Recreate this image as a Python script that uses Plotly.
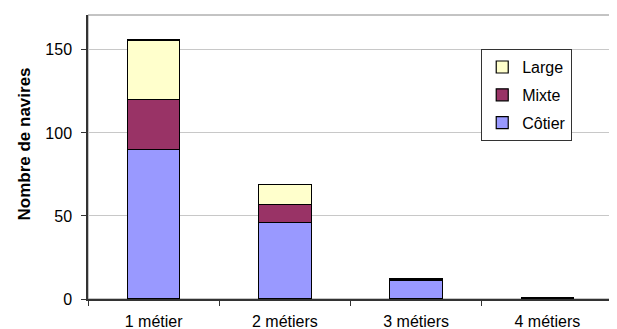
import plotly.graph_objects as go

categories = ["1 métier", "2 métiers", "3 métiers", "4 métiers"]
cotier = [90, 46, 11, 1]
mixte = [30, 11, 1, 0]
large = [36, 12, 0, 0]
y_title = "Nombre de navires"

series = [("Côtier", cotier, "#9999FF", 3), ("Mixte", mixte, "#993366", 2), ("Large", large, "#FFFFCC", 1)]

fig = go.Figure()
for name, vals, col, rank in series:
    fig.add_trace(go.Bar(x=categories, y=vals, name=name, legendgroup=name, legendrank=rank,
                         marker=dict(color=col, line=dict(color="black", width=1.2))))

fig.update_layout(
    barmode="stack", bargap=0.6,
    width=609, height=321,
    margin=dict(l=80, r=4, t=7, b=30),
    paper_bgcolor="white", plot_bgcolor="white",
    font=dict(family="Liberation Sans, Arial", size=15, color="black"),
    legend=dict(traceorder="grouped", x=0.749, y=0.88, xanchor="left", yanchor="top",
                bordercolor="#333", borderwidth=1, bgcolor="white",
                font=dict(size=16), itemwidth=30, tracegroupgap=4),
    shapes=[dict(type="rect", xref="paper", yref="paper", x0=0, x1=1, y0=0, y1=1,
                 line=dict(color="#888888", width=1), layer="below")],
    annotations=[dict(text="<b>" + y_title + "</b>", xref="paper", yref="paper",
                      x=-0.12, y=0.544, xanchor="center", yanchor="middle",
                      textangle=-90, showarrow=False, font=dict(size=17))],
)
fig.update_xaxes(showline=True, linecolor="#333", linewidth=1.5, ticks="outside",
                 tickson="boundaries", ticklen=5, tickcolor="#333", showgrid=False,
                 tickfont=dict(size=16), ticklabelstandoff=7, automargin=False)
fig.update_yaxes(range=[0, 171], tickvals=[0, 50, 100, 150], showline=True, linecolor="#333",
                 linewidth=1.5, ticks="outside", ticklen=5, tickcolor="#333",
                 gridcolor="#C8C8C8", gridwidth=1, zeroline=False, tickfont=dict(size=16),
                 ticklabelstandoff=6, automargin=False)

fig.write_html("out.html")
